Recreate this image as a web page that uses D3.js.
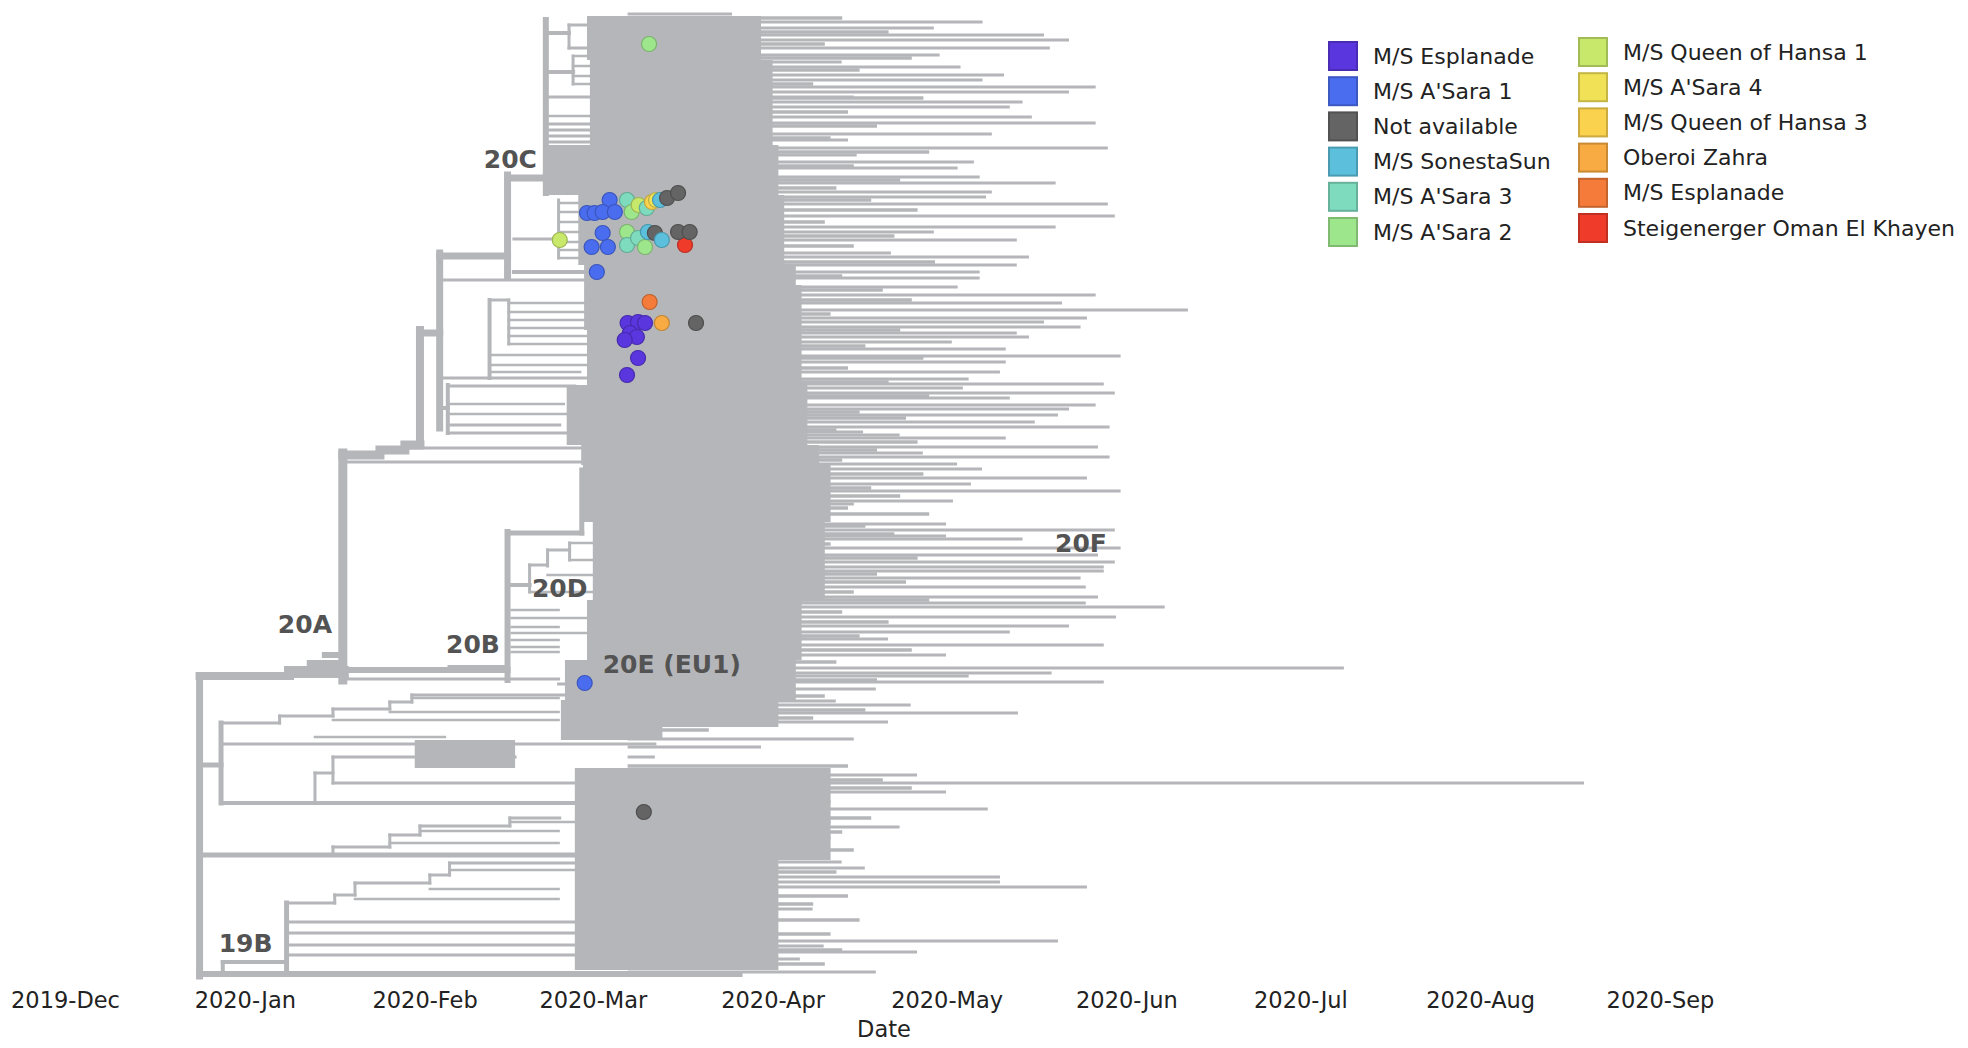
<!DOCTYPE html>
<html><head><meta charset="utf-8">
<script src="https://cdn.jsdelivr.net/npm/d3@7"></script>
<style>body{margin:0;background:#fff}svg{display:block}</style>
</head><body>
<svg id="chart" width="1968" height="1048"></svg>
<script>
// ---------------- DATA ----------------
// x values are days since 2020-01-01, y values are tree rows (0 = top tip, 480 = bottom tip)
const categories = ["M/S Esplanade","M/S A'Sara 1","Not available","M/S SonestaSun","M/S A'Sara 3","M/S A'Sara 2",
  "M/S Queen of Hansa 1","M/S A'Sara 4","M/S Queen of Hansa 3","Oberoi Zahra","M/S Esplanade","Steigenerger Oman El Khayen"];
const categoryColors = ["#5a36de","#4a6df0","#646464","#5cc0dc","#7edbbe","#9ee68c",
  "#c8e86c","#f1e156","#fbd24e","#f8ab42","#f47b39","#ee3b2a"];
const tickLabels = ["2019-Dec","2020-Jan","2020-Feb","2020-Mar","2020-Apr","2020-May","2020-Jun","2020-Jul","2020-Aug","2020-Sep"];
const cladeLabels = [["20C",41.2,77],["20A",5.7,309.5],["20B",34.7,319.5],["20D",49.5,291.5],
  ["20E (EU1)",61.7,329.5],["20F",139.7,269],["19B",-4.5,469]];

// dense clusters of tips: [rowTop, rowBottom, fromDay, toDay]
const massBands = [
  [1,23,59.0,89],[23,65.5,59.5,91],[65.5,90.5,51.7,92],[90.5,125.5,57.5,93],
  [125.5,135.5,58.5,95],[135.5,158,58.5,96],[158,185.5,59,96],[185.5,215.5,55.5,97],
  [215.5,225.5,58,99],[225.5,254,58.3,101],[254,293,60,100],[293,323,59,96],
  [323,343,55.2,95],[343,356.5,54.5,92],[356.5,363,54.5,72],[363,377,29.3,46.6],
  [377,423,56.9,101],[423,478,56.9,92]
];

// horizontal branches: [row, fromDay, toDay, width]
const hBranches = [
  [331,-7.8,7.8,8],[329,7.8,16.9,12],[324.5,11.2,16.9,6],[320.5,13.8,16.9,6],
  [328,16.9,45.3,6],[332.5,17.8,54.1,3],[326.5,35.3,45.3,4],
  [220.5,16.9,23.3,9],[218,23.3,27.6,9],[215.5,27.6,30.2,9],
  [217,25.7,70,3],[224,17.8,70,3],[159.5,30.2,33.6,7],
  [121,33.6,45.3,7],[82,45.3,51.9,7],
  [9.5,51.9,55.9,4],[5.5,55.9,59.8,3],[1.5,59.8,68.1,2],[8,59.8,68.1,2],[17,55.9,62.9,3],
  [29,51.9,56.6,4],[21,56.6,62.9,2.5],[26,56.6,64.7,2.5],[31,56.6,63.8,2.5],[35,56.6,62.1,2.5],
  [41.5,51.9,61.4,3],[39.5,61.4,68.1,2.5],[48,61.4,68.1,2.5],[51,51.9,69.8,2.5],
  [55,51.9,64.7,3],[58,51.9,61.2,3],[61,51.9,66.4,3],[64,51.9,64.7,3],
  [112.5,46.4,54.1,3],[94.5,54.1,64.7,2.5],[99,54.1,61.2,2.5],[104,54.1,68.1,2.5],[109,54.1,61.2,2.5],
  [114,54.1,64.7,2.5],[118,54.1,61.2,2.5],[122,54.1,66.4,2.5],
  [129,46.4,59.5,4],[133,33.8,85.3,3],
  [182,33.6,78.5,3],[143,42.2,45.5,3],
  [144.5,45.5,62.1,2.5],[149,45.5,61.2,2.5],[153,45.5,64.7,2.5],[157,45.5,61.2,2.5],[161,45.5,66.4,2.5],[165,45.5,62.1,2.5],
  [170.5,42.2,61.2,2.5],[175.5,42.2,62.9,2.5],[179,42.2,57.8,2.5],
  [197,33.6,35.0,4],[186,35.0,56.9,3],[195,35.0,55.0,2.5],[200,35.0,58.0,2.5],[205.5,35.0,54.3,3],[209.5,35.0,85.3,3],
  [259.5,45.3,58.1,5],
  [228,58.1,64.7,2.5],[233,58.1,64.7,2.5],[238,58.1,63.8,2.5],[243,58.1,64.7,2.5],[248,58.1,62.9,2.5],[253,58.1,64.7,2.5],
  [285.5,45.3,49.1,4],[275.5,49.1,52.2,3],[268,52.2,56.0,3],[264.5,56.0,61.2,2.5],[273,56.0,62.9,2.5],
  [280.5,52.2,61.2,2.5],[289,49.1,62.9,2.5],
  [298,46.0,54.1,2.5],[302,46.0,67.6,2.5],[306.5,46.0,54.1,2.5],[309.5,46.0,64.7,2.5],[313,46.0,54.1,2.5],
  [316.5,46.0,54.1,2.5],[319,46.0,54.1,2.5],
  [335,54.1,61.2,3],
  [375.5,-7.8,-4.1,5],[354.5,-4.1,6.0,3],[351,6.0,15.2,3],[347.5,15.2,25.0,3],[344,25.0,28.8,3],[340.5,28.8,56.9,3],
  [353,15.2,54.1,2.5],[349,25.0,54.1,2.5],[342,28.8,54.1,2.5],
  [365,-4.1,70.7,3],[361.5,12.1,34.5,2.5],
  [379.5,12.1,15.2,3],[371.5,15.2,46.6,3],[384.5,15.2,59.5,3],[394.5,-4.1,56.9,4],
  [420.5,-7.8,85.3,5],
  [416.5,15.2,25.0,3],[410.5,25.0,30.2,3],[406,30.2,45.7,3],[402,45.7,54.3,3],
  [414.5,25.0,54.1,2.5],[408.5,30.2,54.1,2.5],[404,45.7,56.9,2.5],
  [480,-7.8,85.3,6],
  [444.5,7.2,15.5,3],[440.5,15.5,19.0,3],[434.5,19.0,31.9,3],[430.5,31.9,35.3,3],[424.5,35.3,56.9,3],
  [442.5,19.0,54.1,2.5],[437.5,31.9,54.1,2.5],[428,35.3,56.9,2.5],
  [454,7.2,56.9,3],[459.5,7.2,56.9,3],[465.5,7.2,56.9,3],[470.5,7.2,56.9,3],
  [474,-3.8,7.2,4]
];

// vertical branches: [day, fromRow, toRow, width]
const vBranches = [
  [-7.8,331,481,7],[16.9,219.5,333,9],[30.2,158,215.5,8],[33.6,119.5,207,7],
  [45.3,80.5,131.5,7],[51.9,3,89.5,6],[55.9,5.5,17,3],[59.8,1.5,8,2],[56.6,21,35,3],[61.4,39.5,48,2],
  [54.1,93,122,3],[42.2,143,182,4],[45.5,143,165,3],[35.0,185.5,209.5,4],
  [45.3,259,333,6],[58.1,228,259.5,5],
  [49.1,275.5,289,3],[52.2,268,276,3],[56.0,264.5,273,3],
  [-4.1,354.5,394.5,5],[6.0,351,354.5,3],[15.2,347.5,351,3],[25.0,344,347.5,3],[28.8,340.5,344,3],
  [12.1,379.5,394.5,3],[15.2,371.5,384.5,3],
  [15.2,416.5,420.5,3],[25.0,410.5,416.5,3],[30.2,406,410.5,3],[45.7,402,406,3],
  [7.2,444.5,480,5],[15.5,440.5,444.5,3],[19.0,434.5,440.5,3],[31.9,430.5,434.5,3],[35.3,424.5,430.5,3],
  [-3.8,474,480,4]
];

// long tips reaching beyond the dense cluster: [row, endDay]
const tipEnds = [
  [0,84.0],[4,127.2],[7,118.8],[10.5,137.8],[13,142.1],[17,138.8],[20.5,119.8],[24,102.9],[26.5,123.4],[30.5,130.9],
  [33,127.2],[36.5,146.7],[39,142.1],[41.5,105.0],[44,134.1],[46.5,131.9],[51.5,135.7],[54.5,146.7],[60,128.8],[63,104.0],
  [67,148.8],[70.5,105.5],[74,125.7],[77,122.9],[81.5,126.7],[84.5,139.8],[89,128.8],[91.5,127.8],[95,148.8],[101,150.0],
  [106.5,139.8],[109,118.8],[113,133.1],[119.5,111.4],[121.5,135.2],[125.5,133.1],[129,126.7],[132,126.7],[136.5,122.9],
  [140.5,146.7],[144.5,140.9],[148,162.6],[152,145.2],
  [154,137.8],[156.5,144.1],[159.5,133.1],[161.5,135.2],[164,121.9],[167.5,131.2],[171,151.0],[174,131.2],[179,130.2],
  [182.5,124.8],[185,148.1],[187,123.8],[189.5,150.0],[192,131.9],[195.5,146.7],[197.5,142.1],[200.5,140.2],[204,136.2],
  [206.5,149.1],[209,106.6],[210.5,112.9],[212,131.2],[216.5,147.1],[219.5,116.9],[221.5,149.1],[225,122.8],[227.5,127.1],
  [232,145.2],[235,125.2],[238.5,151.0],[243.5,122.1],[245,105.0],[248,93.4],[252,98.8],[255,120.9],[258,150.0],[261,120.9],
  [262.5,134.1],[267,151.0],[270.5,147.1],[274,150.0],[276.5,148.1],[278.5,148.1],[282,144.1],[286.5,145.0],[291.5,147.1],
  [294.5,145.0],[296.5,158.6],[301.5,150.2],[306,142.1],[309,131.9],[312.5,110.9],[315.5,148.1],
  [320.5,120.9],[327,189.5],[329.5,139.1],[331,124.8],[334,148.1],[337.5,108.8],[339.5,89.8],[343.5,101.9],[345.5,114.8],
  [349.5,133.3],[354,110.9],[362.5,105.0],[366.5,89.0],[371.5,70.7],[380.5,115.9],[384.5,230.9],[389,120.9],[391.5,97.9],
  [397.5,128.1],[399.5,91.9],[404,101.0],[406.5,112.9],[412,101.0],[415,90.0],[424,102.9],[427,106.9],[431.5,130.2],
  [434,130.2],[436.5,145.2],[439.5,89.8],[447.5,97.9],[450,87.1],[457,91.9],[463.5,140.2],[466,99.8],[469,115.9],
  [472.5,95.7],[479,108.8]
];

// shorter tips filling the fringe of the dense cluster: [row, endDay]
const shortTips = [
  [2,103],[9,111],[15,100],[22,115],[28,106],[35,98],[42,117],[49,104],[56,109],[62,101],[69,118],[76,105],[83,113],
  [87,102],[93,108],[98,116],[104,100],[111,112],[116,105],[124,119],[131,103],[138,110],[143,115],[150,101],[158,113],
  [166,107],[172,117],[177,104],[184,111],[191,118],[199,106],[202,114],[208,102],[214,116],[218,109],[223,103],[230,117],
  [237,108],[241,113],[247,104],[250,118],[256,107],[260,112],[265,101],[272,116],[280,109],[284,114],[289,105],[293,118],
  [299,103],[304,111],[311,106],[318,115],[324,102],[333,109],[341,100],[348,107],[352,98],[358,80],[376,104],[383,110],
  [387,115],[394,101],[402,108],[409,103],[418,105],[421,99],[429,102],[441,104],[445,98],[453,106],[460,101],[468,103],[475,100]
];

// coloured samples: [row, day, categoryIndex]
const samples = [
  [15,69.7,5],
  [93,62.9,1],[99.5,59.0,1],[99.5,60.3,1],[99,61.7,1],[99,63.8,1],[93,65.9,4],[99,66.7,5],[95.5,67.9,6],[97,69.3,4],
  [94,70.2,8],[93,70.9,7],[93,71.6,3],[92,72.8,2],[89.5,74.7,2],
  [113,54.3,6],[109.5,61.7,1],[116.5,59.8,1],[116.5,62.6,1],[109,65.9,5],[115.5,65.9,4],[112,67.8,4],[116.5,69.0,5],
  [109,69.5,3],[109.5,70.7,2],[113,71.9,3],[115.5,75.9,11],[109,74.7,2],[109,76.7,2],
  [129,60.7,1],
  [144,69.8,10],[154.5,66.0,0],[154,67.8,0],[154.5,69.0,0],[159.5,66.4,0],[161.5,67.6,0],[163,65.5,0],
  [154.5,71.9,9],[154.5,77.8,2],[172,67.8,0],[180.5,65.9,0],
  [334.5,58.6,1],[399,68.8,2]
];

// ---------------- DRAWING ----------------
const svg = d3.select("#chart");
const day0 = Date.UTC(2020,0,1);
const toDate = d => new Date(day0 + d*864e5);
const x = d3.scaleUtc().domain([Date.UTC(2019,11,1), Date.UTC(2020,8,1)]).range([65,1660]);
const xd = d => x(toDate(d));
const y = d3.scaleLinear().domain([0,480]).range([14,974]);
const treeGray = "#b5b6b9";
const tipStart = 66;

const tree = svg.append("g");
tree.selectAll("rect.mass").data(massBands).join("rect")
  .attr("x", d => xd(d[2])).attr("y", d => y(d[0]))
  .attr("width", d => xd(d[3]) - xd(d[2])).attr("height", d => y(d[1]) - y(d[0]))
  .attr("fill", treeGray);

tree.selectAll("line.stip").data(shortTips).join("line")
  .attr("x1", xd(tipStart)).attr("x2", d => xd(d[1]))
  .attr("y1", d => y(d[0])).attr("y2", d => y(d[0]))
  .attr("stroke", treeGray).attr("stroke-width", 3.5);

tree.selectAll("line.tip").data(tipEnds).join("line")
  .attr("x1", xd(tipStart)).attr("x2", d => xd(d[1]))
  .attr("y1", d => y(d[0])).attr("y2", d => y(d[0]))
  .attr("stroke", treeGray).attr("stroke-width", 3);

tree.selectAll("line.h").data(hBranches).join("line")
  .attr("x1", d => xd(d[1])).attr("x2", d => xd(d[2]))
  .attr("y1", d => y(d[0])).attr("y2", d => y(d[0]))
  .attr("stroke", treeGray).attr("stroke-width", d => d[3]).attr("stroke-linecap","square");

tree.selectAll("line.v").data(vBranches).join("line")
  .attr("x1", d => xd(d[0])).attr("x2", d => xd(d[0]))
  .attr("y1", d => y(d[1])).attr("y2", d => y(d[2]))
  .attr("stroke", treeGray).attr("stroke-width", d => d[3]).attr("stroke-linecap","square");

// samples
svg.append("g").selectAll("circle").data(samples).join("circle")
  .attr("cx", d => xd(d[1])).attr("cy", d => y(d[0])).attr("r", 7.5)
  .attr("fill", d => categoryColors[d[2]])
  .attr("stroke", d => d3.color(categoryColors[d[2]]).darker(0.7))
  .attr("stroke-width", 1.2);

// clade labels
svg.append("g").selectAll("text").data(cladeLabels).join("text")
  .attr("x", d => xd(d[1])).attr("y", d => y(d[2]))
  .attr("font-family","DejaVu Sans, Verdana, sans-serif").attr("font-weight","bold")
  .attr("font-size", 25).attr("fill","#535353")
  .text(d => d[0]);

// axis
const tickDates = tickLabels.map((t,i) => new Date(Date.UTC(2019, 11 + i, 1)));
const axis = d3.axisBottom(x).tickValues(tickDates).tickFormat((d,i) => tickLabels[i]).tickSize(0).tickPadding(0);
const ax = svg.append("g").attr("transform","translate(0,992)").call(axis);
ax.select(".domain").remove();
ax.selectAll("text").attr("font-family","DejaVu Sans, Verdana, sans-serif").attr("font-size",22.5).attr("fill","#222");
svg.append("text").attr("x",884).attr("y",1037).attr("text-anchor","middle")
  .attr("font-family","DejaVu Sans, Verdana, sans-serif").attr("font-size",22.5).attr("fill","#222").text("Date");

// legend
const leg = svg.append("g");
categories.forEach((c,i) => {
  const col = i < 6 ? 0 : 1, row = i % 6;
  const cx = col === 0 ? 1328 : 1578;
  const cy = (col === 0 ? 56 : 52) + row * 35.2;
  leg.append("rect").attr("x", cx + 1).attr("y", cy - 14).attr("width", 28).attr("height", 28)
    .attr("fill", categoryColors[i]).attr("stroke", d3.color(categoryColors[i]).darker(0.6)).attr("stroke-width", 2);
  leg.append("text").attr("x", cx + 45).attr("y", cy + 7.5)
    .attr("font-family","DejaVu Sans, Verdana, sans-serif").attr("font-size",22).attr("fill","#222").text(c);
});
</script>
</body></html>
